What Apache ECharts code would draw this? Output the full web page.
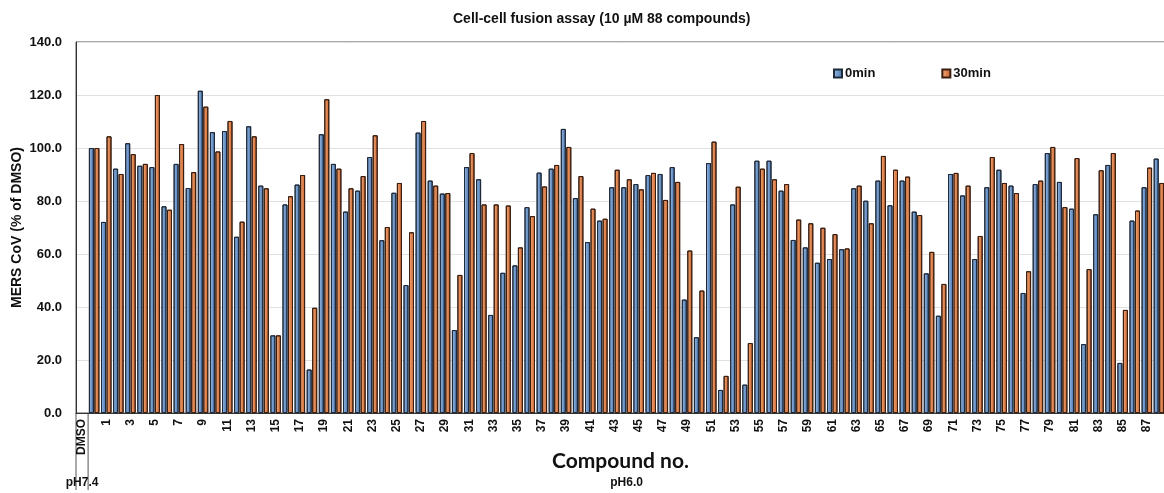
<!DOCTYPE html>
<html>
<head>
<meta charset="utf-8">
<title>Cell-cell fusion assay</title>
<script src="https://cdn.jsdelivr.net/npm/echarts@6/dist/echarts.min.js"></script>
<style>
  html, body { margin: 0; padding: 0; background: #fff; }
  #chart { width: 1164px; height: 493px; }
</style>
</head>
<body>
<div id="chart"></div>
<script>
// categories: the pH7.4 DMSO slot (no bars), DMSO at pH6.0, then compounds 1..88
var compoundNos = [];
for (var i = 1; i <= 88; i++) compoundNos.push(String(i));
var categories = ['DMSO', 'DMSO-6.0'].concat(compoundNos);

// MERS CoV (% of DMSO), 0 min
var min0 = [null, 100,
  72.1, 92.2, 101.8, 93.3, 92.8, 78.0, 94.0, 84.9, 121.6, 106.0,
  106.4, 66.5, 108.2, 85.8, 29.3, 78.7, 86.2, 16.4, 105.2, 94.0,
  76.0, 83.9, 96.6, 65.2, 83.1, 48.3, 105.8, 87.7, 82.8, 31.3,
  92.8, 88.2, 37.0, 52.9, 55.7, 77.7, 90.7, 92.2, 107.2, 81.1,
  64.5, 72.6, 85.2, 85.2, 86.4, 89.8, 90.2, 92.8, 42.8, 28.6,
  94.3, 8.7, 78.7, 10.7, 95.2, 95.2, 83.9, 65.3, 62.5, 56.7,
  58.1, 61.8, 84.8, 80.1, 87.7, 78.4, 87.7, 76.0, 52.7, 36.7,
  90.2, 82.1, 58.1, 85.2, 91.8, 85.8, 45.3, 86.4, 98.1, 87.2,
  77.1, 26.0, 75.0, 93.6, 18.9, 72.6, 85.2, 96.0];

// MERS CoV (% of DMSO), 30 min
var min30 = [null, 100,
  104.4, 90.2, 97.7, 94.0, 120.0, 76.7, 101.5, 90.9, 115.6, 98.7,
  110.2, 72.2, 104.4, 84.8, 29.3, 81.8, 89.8, 39.7, 118.4, 92.2,
  84.8, 89.4, 104.8, 70.2, 86.8, 68.2, 110.2, 85.8, 83.0, 52.1,
  98.1, 78.7, 78.7, 78.3, 62.5, 74.3, 85.5, 93.6, 100.4, 89.4,
  77.1, 73.3, 91.8, 88.2, 84.4, 90.6, 80.4, 87.2, 61.3, 46.2,
  102.4, 14.0, 85.4, 26.4, 92.2, 88.2, 86.4, 73.0, 71.6, 69.9,
  67.5, 62.1, 85.8, 71.6, 97.0, 91.8, 89.2, 74.7, 60.8, 48.7,
  90.6, 85.8, 66.8, 96.6, 86.8, 83.0, 53.5, 87.7, 100.4, 77.7,
  96.2, 54.3, 91.6, 98.1, 38.9, 76.4, 92.6, 86.8];

var groupLabels = ['pH7.4', 'pH6.0'];

var font = 'Liberation Sans, Arial, sans-serif';

var blueFill = new echarts.graphic.LinearGradient(0, 0, 1, 0, [
  { offset: 0, color: '#9dbde6' }, { offset: 1, color: '#4573ad' }]);
var orangeFill = new echarts.graphic.LinearGradient(0, 0, 1, 0, [
  { offset: 0, color: '#f4ad7c' }, { offset: 1, color: '#c9602a' }]);

var myChart = echarts.init(document.getElementById('chart'));

var option = {
    animation: false,
    title: {
        text: 'Cell-cell fusion assay (10 \u00b5M 88 compounds)',
        left: 448,
        top: 7,
        textStyle: { fontFamily: font, fontSize: 14, fontWeight: 'bold', color: '#111' }
    },
    legend: {
        left: 828,
        top: 62,
        itemWidth: 8,
        itemHeight: 8,
        itemGap: 66,
        icon: 'rect',
        textStyle: { fontFamily: font, fontSize: 13, fontWeight: 'bold', color: '#111', padding: [0, 0, 0, -2] },
        data: ['0min', '30min']
    },
    grid: {
        left: 76, top: 42, width: 1089, height: 371,
        outerBoundsMode: 'none',
        show: true, borderColor: '#555', borderWidth: 1
    },
    xAxis: {
        type: 'category',
        data: categories,
        name: 'Compound no.',
        nameLocation: 'middle',
        nameGap: 38,
        nameMoveOverlap: false,
        nameTextStyle: { fontFamily: 'Lato, sans-serif', fontSize: 21, fontWeight: 'bold', color: '#111' },
        axisLine: { lineStyle: { color: '#333' } },
        axisTick: { show: false },
        axisLabel: {
            rotate: 90,
            margin: 6,
            interval: function (index) {
                return index === 0 || (index >= 2 && index % 2 === 0);
            },
            fontFamily: font, fontSize: 12, fontWeight: 'bold', color: '#111'
        }
    },
    yAxis: {
        type: 'value',
        min: 0, max: 140, interval: 20,
        name: 'MERS CoV (% of DMSO)',
        nameLocation: 'middle',
        nameGap: 52,
        nameMoveOverlap: false,
        nameTextStyle: { fontFamily: font, fontSize: 14, fontWeight: 'bold', color: '#111' },
        axisLine: { show: true, lineStyle: { color: '#333' } },
        axisTick: { show: false },
        axisLabel: {
            margin: 14,
            formatter: function (v) { return v.toFixed(1); },
            fontFamily: font, fontSize: 13, fontWeight: 'bold', color: '#111'
        },
        splitLine: { lineStyle: { color: '#e0e0e0' } }
    },
    series: [{
        name: '0min',
        type: 'bar',
        data: min0,
        barWidth: 5,
        barGap: '10%',
        itemStyle: { color: blueFill, borderColor: '#1e2a3a', borderWidth: 1 }
    }, {
        name: '30min',
        type: 'bar',
        data: min30,
        barWidth: 5,
        itemStyle: { color: orangeFill, borderColor: '#3a1e10', borderWidth: 1 }
    }]
};

myChart.setOption(option);

// second level of the category axis: pH groups with separator lines
var c0 = myChart.convertToPixel({ xAxisIndex: 0 }, 0);
var c1 = myChart.convertToPixel({ xAxisIndex: 0 }, 1);
var half = (c1 - c0) / 2;
var yBase = myChart.convertToPixel({ yAxisIndex: 0 }, 0);
var xEnd = myChart.convertToPixel({ xAxisIndex: 0 }, categories.length - 1) + half;
var sepA = c0 - half, sepB = c0 + half;

myChart.setOption({
    graphic: [
        { type: 'line', shape: { x1: sepA, y1: yBase, x2: sepA, y2: 490 }, style: { stroke: '#555', lineWidth: 1 } },
        { type: 'line', shape: { x1: sepB, y1: yBase, x2: sepB, y2: 490 }, style: { stroke: '#555', lineWidth: 1 } },
        { type: 'text', x: (sepA + sepB) / 2, y: 483,
          style: { text: groupLabels[0], textAlign: 'center', textVerticalAlign: 'middle',
                   font: 'bold 12px ' + font, fill: '#111' } },
        { type: 'text', x: (sepB + xEnd) / 2, y: 483,
          style: { text: groupLabels[1], textAlign: 'center', textVerticalAlign: 'middle',
                   font: 'bold 12px ' + font, fill: '#111' } }
    ]
});
</script>
</body>
</html>
